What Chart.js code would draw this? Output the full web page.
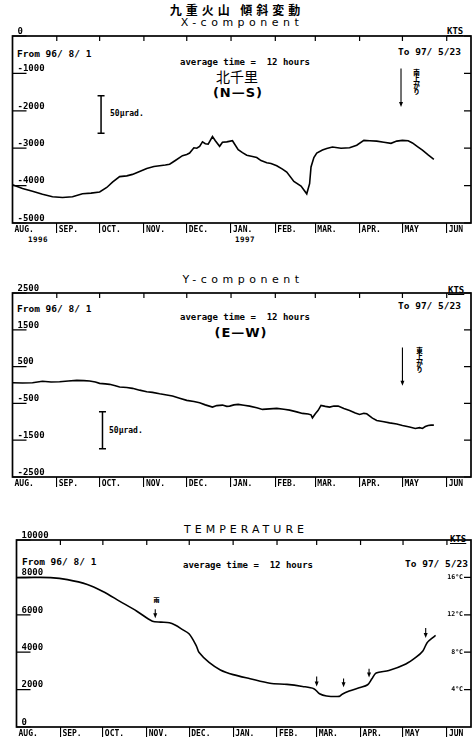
<!DOCTYPE html>
<html>
<head>
<meta charset="utf-8">
<script src="https://cdn.jsdelivr.net/npm/chart.js@4.4.0/dist/chart.umd.min.js"></script>
<style>
    html, body { margin: 0; padding: 0; background: #fff; }
    body { width: 472px; height: 742px; position: relative; overflow: hidden; color: #000; }
    canvas { position: absolute; left: 0; }
    .t { position: absolute; white-space: pre; line-height: 1; font-weight: bold; font-family: 'DejaVu Sans Mono', monospace; font-size: 9.5px; }
    .c { transform: translateX(-50%); }
    .head { font-family: 'DejaVu Sans', sans-serif; font-size: 11px; font-weight: normal; letter-spacing: 4.5px; }
    .avg { font-size: 9px; }
    .small { font-size: 8px; }
    .year { font-size: 7.5px; letter-spacing: 0.5px; }
    .kts { font-size: 9px; text-decoration: underline; }
    .vert { writing-mode: vertical-rl; font-family: 'Noto Sans CJK JP', sans-serif; font-size: 6.5px; font-weight: 900; }
</style>
</head>
<body>

<div class="t c" style="left:237px; top:4px; font-family:'Noto Sans CJK JP'; font-size:12px; letter-spacing:4px;">九重火山 傾斜変動</div>

<div class="t c head" style="left:242px; top:17px;">X-component</div>
<div class="t kts" style="left:447px; top:27px;">KTS</div>
<div class="t" style="left:17px; top:49px;">From 96/ 8/ 1</div>
<div class="t" style="left:398px; top:47px;">To 97/ 5/23</div>
<div class="t avg" style="left:180px; top:58px;">average time =  12 hours</div>
<div class="t c" style="left:237px; top:69px; font-family:'Noto Sans CJK JP'; font-size:14px; font-weight:normal;">北千里</div>
<div class="t c" style="left:238px; top:86px; font-family:'DejaVu Sans'; font-size:13px; letter-spacing:1px;">(N—S)</div>
<div class="t small" style="left:110px; top:110px;">50μrad.</div>
<div class="t vert" style="left:413px; top:69px;">南上がり</div>
<div class="t year" style="left:28px; top:236px;">1996</div>
<div class="t year" style="left:235px; top:236px;">1997</div>

<div class="t c head" style="left:243px; top:274px;">Y-component</div>
<div class="t kts" style="left:448px; top:286px;">KTS</div>
<div class="t" style="left:17px; top:304px;">From 96/ 8/ 1</div>
<div class="t" style="left:398px; top:301px;">To 97/ 5/23</div>
<div class="t avg" style="left:180px; top:313px;">average time =  12 hours</div>
<div class="t c" style="left:241px; top:326px; font-family:'DejaVu Sans'; font-size:13px; letter-spacing:1px;">(E—W)</div>
<div class="t small" style="left:109px; top:427px;">50μrad.</div>
<div class="t vert" style="left:416px; top:347px;">東上がり</div>

<div class="t c head" style="left:246px; top:524px; letter-spacing:4px;">TEMPERATURE</div>
<div class="t kts" style="left:450px; top:535px;">KTS</div>
<div class="t" style="left:22px; top:557px;">From 96/ 8/ 1</div>
<div class="t" style="left:405px; top:559px;">To 97/ 5/23</div>
<div class="t avg" style="left:183px; top:561px;">average time =  12 hours</div>
<div class="t vert" style="left:153px; top:597px; font-size:6px;">雨</div>

<canvas id="xChart" width="472" height="215" style="top:24px;"></canvas>
<canvas id="yChart" width="472" height="212" style="top:281px;"></canvas>
<canvas id="tempChart" width="472" height="215" style="top:528px;"></canvas>

<script>
// -------------- Data --------------

// days since 96/8/1
const monthDays = [0, 31, 61, 92, 122, 153, 184, 212, 243, 273, 304];
const monthLabels = ['AUG.', 'SEP.', 'OCT.', 'NOV.', 'DEC.', 'JAN.', 'FEB.', 'MAR.', 'APR.', 'MAY', 'JUN'];

const xTicks = [0, -1000, -2000, -3000, -4000, -5000];
const yTicks = [2500, 1500, 500, -500, -1500, -2500];
const tempTicks = [10000, 8000, 6000, 4000, 2000, 0];
const tempCTicks = [4, 8, 12, 16];

const xDays = [0, 7, 14, 21, 28, 35, 42, 49, 55, 61, 66, 70, 75, 80, 84, 89, 94, 99, 103, 107,
    110, 114, 119, 122, 124, 127, 129, 131, 133, 135, 137, 140, 142, 145, 147, 150, 154, 158, 161, 164,
    168, 171, 174, 178, 181, 185, 189, 192, 197, 202, 206, 208, 209, 211, 213, 217, 220, 224, 230, 236,
    241, 246, 250, 255, 260, 265, 269, 273, 277, 280, 284, 287, 291, 295];
const xValues = [-3980, -4080, -4150, -4230, -4300, -4320, -4300, -4220, -4200, -4170, -4050, -3910, -3760, -3740, -3700, -3620, -3540, -3490, -3470, -3450,
    -3430, -3330, -3200, -3170, -3130, -2990, -3000, -2950, -2830, -2880, -2890, -2690, -2800, -2950, -2840, -2830, -2800, -3040, -3120, -3190,
    -3220, -3250, -3330, -3390, -3410, -3470, -3560, -3640, -3890, -4010, -4220, -3950, -3500, -3250, -3130, -3050, -3010, -2970, -3000, -2990,
    -2920, -2790, -2800, -2810, -2840, -2870, -2810, -2790, -2800, -2860, -2970, -3050, -3180, -3300];

const yDays = [0, 7, 14, 21, 27, 33, 39, 45, 50, 54, 58, 61, 65, 68, 72, 75, 80, 84, 89, 94,
    98, 103, 108, 112, 117, 122, 127, 131, 135, 140, 143, 147, 150, 152, 155, 158, 162, 166, 171, 175,
    180, 185, 190, 194, 199, 203, 207, 209, 210, 212, 214, 216, 219, 222, 225, 228, 232, 236, 240, 243,
    246, 248, 252, 255, 260, 264, 269, 273, 278, 282, 285, 287, 289, 291, 293, 295];
const yValues = [60, 55, 60, 100, 80, 90, 110, 125, 120, 110, 80, 45, 30, 18, -20, -56, -70, -91, -140, -184,
    -200, -238, -270, -301, -360, -418, -450, -484, -540, -600, -560, -546, -580, -574, -540, -527, -550, -574, -620, -663,
    -650, -636, -660, -683, -730, -772, -790, -810, -892, -780, -690, -554, -580, -601, -570, -574, -640, -691, -760, -800,
    -770, -783, -900, -963, -1000, -1029, -1060, -1100, -1140, -1181, -1160, -1181, -1130, -1100, -1090, -1091];

const tempDays = [0, 12, 24, 36, 50, 61, 73, 85, 96, 102, 108, 112, 117, 122, 127, 129, 136, 144, 153, 165,
    179, 191, 202, 210, 214, 219, 228, 230, 235, 242, 248, 251, 254, 263, 275, 282, 287, 290, 294, 296];
const tempValues = [7980, 8000, 7990, 7880, 7620, 7250, 6720, 6190, 5660, 5610, 5570, 5450, 5220, 4970, 4340, 3980, 3450, 3050, 2800, 2580,
    2340, 2280, 2170, 2050, 1780, 1660, 1640, 1750, 1920, 2100, 2260, 2580, 2890, 3020, 3370, 3720, 4070, 4510, 4780, 4900];

// -------------- Plotter look --------------

const plotterFrame = {
    id: 'plotterFrame',
    afterDraw(chart, args, opts) {
        const { ctx, chartArea: a, scales } = chart;
        const x = scales.x, y = scales.y;
        const right = scales[opts.rightScale || 'y'];

        ctx.save();
        ctx.strokeStyle = '#000';
        ctx.fillStyle = '#000';
        ctx.lineWidth = 1.7;
        ctx.strokeRect(a.left, a.top, a.width, a.height);

        ctx.lineWidth = 1.2;
        ctx.beginPath();
        x.ticks.forEach(t => {
            const px = x.getPixelForValue(t.value);
            if (px < a.left + 2) return;
            ctx.moveTo(px, a.top);
            ctx.lineTo(px, a.top + 5);
        });
        y.ticks.forEach(t => {
            const py = y.getPixelForValue(t.value);
            ctx.moveTo(a.left, py);
            ctx.lineTo(a.left + 14, py);
        });
        right.ticks.forEach(t => {
            const py = right.getPixelForValue(t.value);
            ctx.moveTo(a.right, py);
            ctx.lineTo(a.right - 7, py);
        });
        ctx.stroke();

        if (opts.bar) {
            const px = x.getPixelForValue(opts.bar.day);
            const p1 = y.getPixelForValue(opts.bar.from);
            const p2 = y.getPixelForValue(opts.bar.to);
            ctx.lineWidth = 1.5;
            ctx.beginPath();
            ctx.moveTo(px, p1); ctx.lineTo(px, p2);
            ctx.moveTo(px - 3.5, p1); ctx.lineTo(px + 3.5, p1);
            ctx.moveTo(px - 3.5, p2); ctx.lineTo(px + 3.5, p2);
            ctx.stroke();
        }

        (opts.arrows || []).forEach(ar => {
            const px = x.getPixelForValue(ar.day);
            const p1 = y.getPixelForValue(ar.from);
            const p2 = y.getPixelForValue(ar.to);
            ctx.lineWidth = 1.1;
            ctx.beginPath();
            ctx.moveTo(px, p1); ctx.lineTo(px, p2 - 3);
            ctx.stroke();
            ctx.beginPath();
            ctx.moveTo(px - 2, p2 - 5); ctx.lineTo(px + 2, p2 - 5); ctx.lineTo(px, p2);
            ctx.closePath();
            ctx.fill();
        });

        ctx.restore();
    }
};

const tickFont = { family: 'DejaVu Sans Mono', size: 9, weight: 'bold' };

function xAxis() {
    return {
        type: 'linear', min: 0, max: 321,
        afterBuildTicks: s => { s.ticks = monthDays.map(v => ({ value: v })); },
        afterFit: s => { s.height = 14; },
        grid: {
            drawOnChartArea: false, drawTicks: true, tickLength: 10, lineWidth: 1.1,
            color: c => c.index === 0 ? 'rgba(0,0,0,0)' : '#000'
        },
        border: { display: false },
        ticks: {
            autoSkip: false, maxRotation: 0, align: 'start', padding: -8, labelOffset: 2,
            color: '#000', font: { family: 'DejaVu Sans Mono', size: 8, weight: 'bold' },
            callback: (v, i) => monthLabels[i]
        }
    };
}

function leftAxis(ticks, min, max) {
    return {
        min, max,
        afterBuildTicks: s => { s.ticks = ticks.map(v => ({ value: v })); },
        afterFit: s => { s.width = 0; },
        grid: { display: false, drawTicks: false },
        border: { display: false },
        ticks: { mirror: true, padding: 5, labelOffset: -4.5, color: '#000', font: tickFont, callback: v => String(v) }
    };
}

function createPlotterChart({ id, days, values, left, y, extraScales, plotter, tension }) {
    return new Chart(document.getElementById(id), {
        type: 'line',
        data: {
            datasets: [{
                data: days.map((d, i) => ({ x: d, y: values[i] })),
                borderColor: '#000',
                borderWidth: 1.6,
                pointRadius: 0,
                fill: false,
                tension: tension || 0
            }]
        },
        options: {
            responsive: false,
            animation: false,
            layout: { padding: { top: 12, left, right: 1, bottom: 2 } },
            plugins: { legend: { display: false }, tooltip: { enabled: false }, plotterFrame: plotter },
            scales: Object.assign({ x: xAxis(), y }, extraScales || {})
        },
        plugins: [plotterFrame]
    });
}

// -------------- Charts --------------

createPlotterChart({
    id: 'xChart', days: xDays, values: xValues, left: 12.5,
    y: leftAxis(xTicks, -5000, 0),
    plotter: {
        bar: { day: 62, from: -1600, to: -2600 },
        arrows: [{ day: 272, from: -870, to: -1900 }]
    }
});

createPlotterChart({
    id: 'yChart', days: yDays, values: yValues, left: 12.5,
    y: leftAxis(yTicks, -2500, 2500),
    plotter: {
        bar: { day: 63, from: -730, to: -1730 },
        arrows: [{ day: 273, from: 1020, to: -20 }]
    }
});

createPlotterChart({
    id: 'tempChart', days: tempDays, values: tempValues, left: 16.5, tension: 0.3,
    y: leftAxis(tempTicks, 0, 10000),
    extraScales: {
        y2: {
            position: 'right', min: 0, max: 20,
            afterBuildTicks: s => { s.ticks = tempCTicks.map(v => ({ value: v })); },
            afterFit: s => { s.width = 0; },
            grid: { display: false, drawTicks: false },
            border: { display: false },
            ticks: { mirror: true, padding: -8, color: '#000', font: { family: 'DejaVu Sans Mono', size: 6.5, weight: 'bold' }, callback: v => v + '°C' }
        }
    },
    plotter: {
        rightScale: 'y2',
        arrows: [
            { day: 98, from: 6300, to: 5820 },
            { day: 212, from: 2700, to: 2170 },
            { day: 231, from: 2590, to: 2120 },
            { day: 249, from: 3120, to: 2650 },
            { day: 289, from: 5290, to: 4760 }
        ]
    }
});
</script>
</body>
</html>
